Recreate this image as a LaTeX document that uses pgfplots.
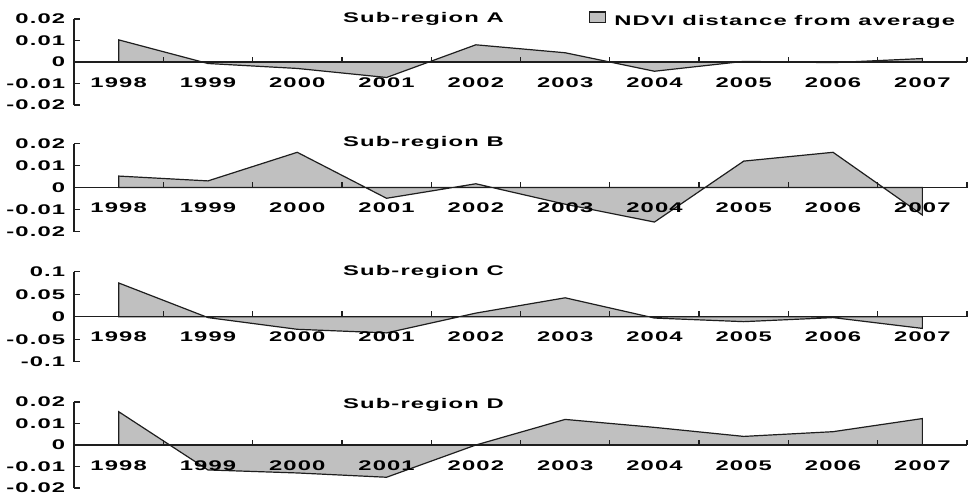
\documentclass[border=0pt]{standalone}
\usepackage{fontspec}
\setmainfont{Liberation Sans}[FakeStretch=1.7,LetterSpace=8]
\usepackage{pgfplots}
\pgfplotsset{compat=1.18}
\definecolor{fillgray}{RGB}{192,192,192}
\definecolor{linegray}{RGB}{30,30,30}
\tikzset{ttl/.style={anchor=base west, inner sep=0pt},
  tickst/.style={draw=linegray, line width=1.3bp}}
\newcommand\xticksdraw{%
  \pgfplotsinvokeforeach{1,2,3,4,5,6,7,8,9,10}{\draw[tickst] (axis cs:##1,0) -- ++(0pt,5.5bp);}}
\newcommand\yticksdraw[4]{%
  \pgfplotsinvokeforeach{#1,#2,#3,#4}{\draw[tickst] (axis cs:0,##1) -- ++(6bp,0pt);}}
\pgfplotsset{
  panel/.style={
    scale only axis, width=893bp, height=88bp, anchor=origin,
    xmin=0, xmax=10, ymin=-0.02, ymax=0.02,
    axis x line*=middle, axis y line*=left,
    axis on top,
    axis line style={linegray, line width=1.2bp},
    scaled y ticks=false, scaled x ticks=false,
    xtick={0.5,1.5,2.5,3.5,4.5,5.5,6.5,7.5,8.5,9.5},
    xticklabels={1998,1999,2000,2001,2002,2003,2004,2005,2006,2007},
    xticklabel style={anchor=base, yshift=-25bp},
    ytick={-0.02,-0.01,0,0.01,0.02},
    yticklabels={-0.02,-0.01,0,0.01,0.02},
    major tick length=0pt,
    yticklabel style={xshift=-4bp},
    clip=false,
  },
  myarea/.style={draw=linegray, line width=1.2bp, fill=fillgray},
}
\begin{document}
\bfseries\fontsize{14bp}{16bp}\selectfont
\begin{tikzpicture}
\useasboundingbox (0,0) rectangle (971bp,-499bp);
% Panel A
\begin{axis}[panel, at={(74bp,-62bp)}, height=86bp,
  legend image code/.code={\draw[fill=fillgray,draw=linegray,line width=1.2bp] (0bp,-1.3bp) rectangle (16bp,9.4bp);},
  legend style={at={(rel axis cs:0.5767,0.5)}, anchor=west, yshift=42.6bp,
    draw=none, fill=none, inner sep=0pt, column sep=8bp, nodes={inner sep=0pt}}]
\addplot[myarea] coordinates {(0.5,0.0103) (1.5,-0.0007) (2.5,-0.003) (3.5,-0.0072) (4.5,0.008) (5.5,0.0043) (6.5,-0.0043) (7.5,0.0003) (8.5,-0.0003) (9.5,0.0016)} \closedcycle;
\addlegendentry{NDVI distance from average}
\xticksdraw
\yticksdraw{-0.02}{-0.01}{0.01}{0.02}
\node[ttl, yshift=40bp] at (rel axis cs:0.3012,0.5) {Sub-region A};
\end{axis}
% Panel B
\begin{axis}[panel, at={(74bp,-187.5bp)}]
\addplot[myarea] coordinates {(0.5,0.0052) (1.5,0.003) (2.5,0.016) (3.5,-0.0049) (4.5,0.0017) (5.5,-0.0076) (6.5,-0.0157) (7.5,0.012) (8.5,0.016) (9.5,-0.0125)} \closedcycle;
\xticksdraw
\yticksdraw{-0.02}{-0.01}{0.01}{0.02}
\node[ttl, yshift=41bp] at (rel axis cs:0.3012,0.5) {Sub-region B};
\end{axis}
% Panel C
\begin{axis}[panel, at={(74bp,-316.7bp)}, height=90bp, ymin=-0.1, ymax=0.1,
  ytick={-0.1,-0.05,0,0.05,0.1}, yticklabels={-0.1,-0.05,0,0.05,0.1}]
\addplot[myarea] coordinates {(0.5,0.075) (1.5,-0.002) (2.5,-0.028) (3.5,-0.036) (4.5,0.008) (5.5,0.042) (6.5,-0.003) (7.5,-0.011) (8.5,-0.002) (9.5,-0.026)} \closedcycle;
\xticksdraw
\yticksdraw{-0.1}{-0.05}{0.05}{0.1}
\node[ttl, yshift=41bp] at (rel axis cs:0.3012,0.5) {Sub-region C};
\end{axis}
% Panel D
\begin{axis}[panel, at={(74bp,-445bp)}, height=86bp]
\addplot[myarea] coordinates {(0.5,0.0155) (1.5,-0.0116) (2.5,-0.013) (3.5,-0.015) (4.5,0.0) (5.5,0.0119) (6.5,0.0082) (7.5,0.004) (8.5,0.0062) (9.5,0.0123)} \closedcycle;
\xticksdraw
\yticksdraw{-0.02}{-0.01}{0.01}{0.02}
\node[ttl, yshift=37bp] at (rel axis cs:0.3012,0.5) {Sub-region D};
\end{axis}
\end{tikzpicture}
\end{document}
